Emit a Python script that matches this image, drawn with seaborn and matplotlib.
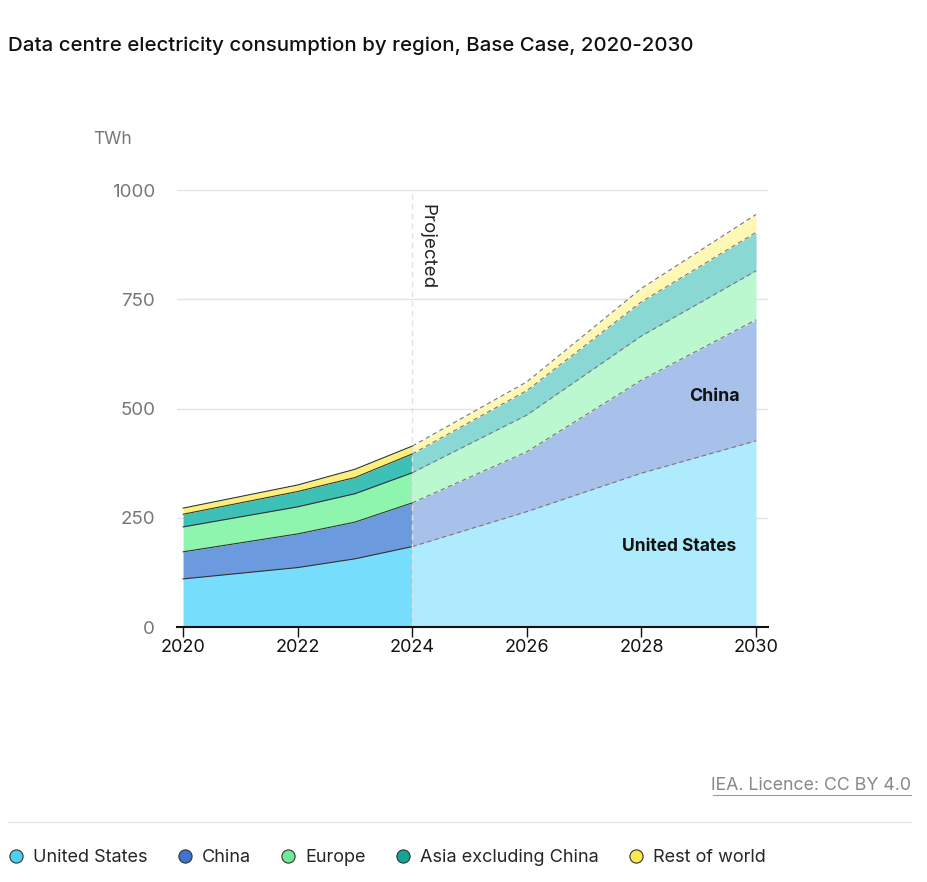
import numpy as np
import seaborn as sns
from matplotlib import pyplot as plt
from matplotlib.lines import Line2D

regions = ["United States", "China", "Europe", "Asia excluding China", "Rest of world"]

years_hist = [2020, 2022, 2023, 2024]
us_hist = [110, 136, 156, 184]
china_hist = [62, 77, 84, 100]
europe_hist = [57, 62, 65, 69]
asia_hist = [29, 35, 37, 43]
row_hist = [14, 15, 19, 18]

years_proj = [2024, 2026, 2028, 2030]
us_proj = [184, 264, 352, 426]
china_proj = [100, 137, 213, 277]
europe_proj = [69, 84, 101, 112]
asia_proj = [43, 56, 78, 88]
row_proj = [18, 20, 31, 41]

y_ticks = [0, 250, 500, 750, 1000]
x_ticks = [2020, 2022, 2024, 2026, 2028, 2030]

hist_colors = ["#76ddfd", "#6b9bde", "#8ef5af", "#3dc1b6", "#fcf07a"]
proj_colors = ["#adebfd", "#a8c1eb", "#bbf8d0", "#8ad8d3", "#fef8b4"]
legend_colors = ["#4dd0f7", "#3f74cf", "#6eeb98", "#12a594", "#fbe84a"]

sns.set_theme(style="white")
plt.rcParams["font.family"] = ["Inter", "DejaVu Sans"]

fig = plt.figure(figsize=(9.28, 8.82), dpi=100)
ax = fig.add_axes([177.3 / 928, (882 - 627) / 882, (767.5 - 177.3) / 928, 437 / 882])


def draw_stack(years, series, colors, line_style, line_color):
    ax.stackplot(years, *series, colors=colors, linewidth=0, zorder=2)
    cum = np.cumsum(np.array(series), axis=0)
    for row in cum:
        sns.lineplot(x=years, y=row, ax=ax, color=line_color, linewidth=0.8,
                     linestyle=line_style, zorder=3, legend=False)


draw_stack(years_hist, [us_hist, china_hist, europe_hist, asia_hist, row_hist],
           hist_colors, "-", "#333333")
draw_stack(years_proj, [us_proj, china_proj, europe_proj, asia_proj, row_proj],
           proj_colors, (0, (4, 3)), "#777777")

ax.set_xlim(2019.9, 2030.2)
ax.set_ylim(0, 1000)
ax.set_yticks(y_ticks)
ax.set_yticklabels([str(v) for v in y_ticks], color="#777777", fontsize=13.5)
ax.set_xticks(x_ticks)
ax.set_xticklabels([str(v) for v in x_ticks], color="#111111", fontsize=13)
ax.tick_params(axis="y", length=0, pad=16)
ax.tick_params(axis="x", length=7, width=1, color="#111111", direction="out", pad=2, bottom=True)
for v in y_ticks[1:]:
    ax.axhline(v, color="#e3e3e3", linewidth=1, zorder=1)
for side in ["top", "right", "left"]:
    ax.spines[side].set_visible(False)
ax.spines["bottom"].set_color("#111111")
ax.spines["bottom"].set_linewidth(1.5)
ax.spines["bottom"].set_zorder(5)

ax.axvline(2024, color="#e2e2e2", linewidth=1, linestyle=(0, (4, 3)), zorder=4)
ax.text(2024.1, 968, "Projected", rotation=-90, ha="left", va="top", fontsize=13.5, color="#222222")
ax.text(2029.72, 527, "China", ha="right", va="center", fontsize=12.8, fontweight="bold", color="#111111")
ax.text(2029.65, 185, "United States", ha="right", va="center", fontsize=12.5, fontweight="bold",
        color="#111111")

fig.text(8 / 928, 1 - 46 / 882, "Data centre electricity consumption by region, Base Case, 2020-2030",
         ha="left", va="center", fontsize=14.7, fontweight="medium", color="#111111")
fig.text(113 / 928, 1 - 139 / 882, "TWh", ha="center", va="center", fontsize=12.5, color="#777777")
fig.text(911 / 928, 1 - 785 / 882, "IEA. Licence: CC BY 4.0", ha="right", va="center",
         fontsize=12.8, color="#888888")
fig.add_artist(Line2D([713 / 928, 911 / 928], [1 - 795 / 882, 1 - 795 / 882], color="#999999",
                      linewidth=0.8))
fig.add_artist(Line2D([8 / 928, 911 / 928], [1 - 822 / 882, 1 - 822 / 882], color="#e6e6e6",
                      linewidth=1))

handles = [Line2D([], [], marker="o", linestyle="none", markersize=9.5, markerfacecolor=c,
                  markeredgecolor="#333333", markeredgewidth=0.8) for c in legend_colors]
fig.legend(handles, regions, loc="center left", bbox_to_anchor=(0, 1 - 858 / 882), ncol=5,
           frameon=False, fontsize=13, handletextpad=0.35, columnspacing=1.45, handlelength=1.2,
           borderaxespad=0, borderpad=0.3)

fig.savefig("out.png", dpi=100)
